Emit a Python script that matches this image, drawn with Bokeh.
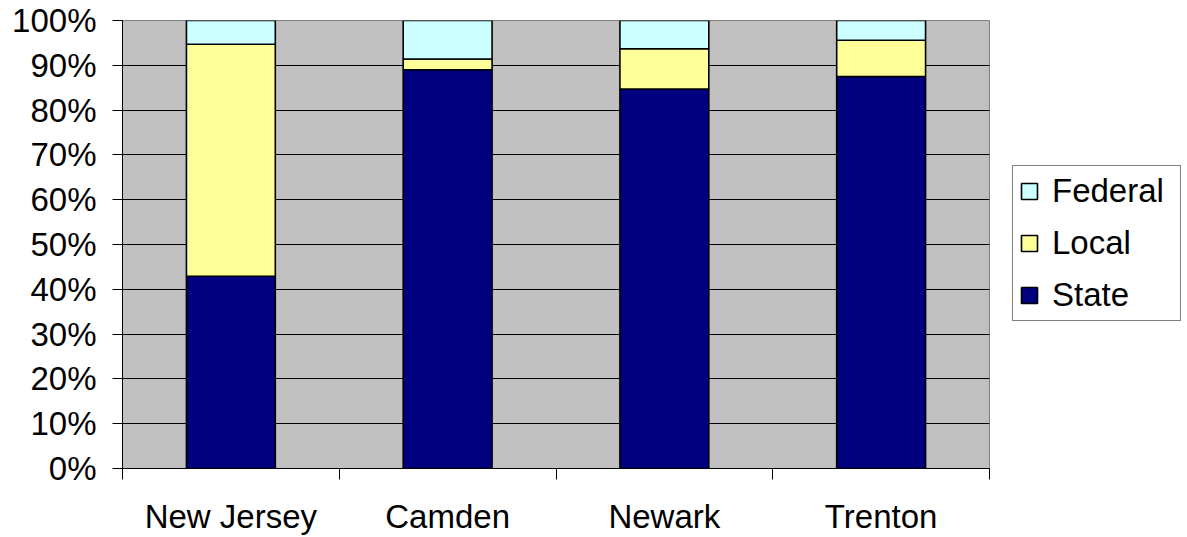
from bokeh.plotting import figure
from bokeh.models import (Range1d, FixedTicker, NumeralTickFormatter, Legend, LegendItem,
                          ColumnDataSource)
from bokeh.embed import file_html
from bokeh.resources import INLINE

categories = ["New Jersey", "Camden", "Newark", "Trenton"]
state = [0.429, 0.890, 0.847, 0.875]
local = [0.518, 0.024, 0.090, 0.081]
federal = [0.053, 0.086, 0.063, 0.044]
series = ["State", "Local", "Federal"]
colors = ["#000080", "#FFFF99", "#CCFFFF"]
y_ticks = [i / 10 for i in range(11)]

pos = [i + 0.5 for i in range(len(categories))]
src = ColumnDataSource(dict(x=pos, State=state, Local=local, Federal=federal))

FONT = "Liberation Sans"
FS = "33px"

p = figure(frame_width=867, frame_height=448, output_backend="svg", toolbar_location=None,
           x_range=Range1d(0, len(categories)), y_range=Range1d(0, 1),
           min_border_left=122, min_border_right=0, min_border_top=20, min_border_bottom=69)
p.background_fill_color = "#C0C0C0"
p.border_fill_color = "white"
p.outline_line_color = "#808080"
p.outline_line_width = 1

renderers = p.vbar_stack(series, x="x", width=0.41, source=src, color=colors,
                         line_color="black", line_width=1.6)

# axes
p.xaxis.ticker = FixedTicker(ticks=pos, minor_ticks=list(range(len(categories) + 1)))
p.xaxis.major_label_overrides = {x: c for x, c in zip(pos, categories)}
p.xaxis.major_tick_out = 0
p.xaxis.major_tick_in = 0
p.xaxis.minor_tick_out = 11
p.xaxis.minor_tick_in = 0
p.xaxis.minor_tick_line_color = "black"
p.xaxis.axis_line_color = "black"
p.xaxis.major_label_standoff = 18
p.xaxis.major_label_text_font = FONT
p.xaxis.major_label_text_font_size = FS
p.xaxis.major_label_text_color = "black"

p.yaxis.ticker = FixedTicker(ticks=y_ticks, minor_ticks=[])
p.yaxis.formatter = NumeralTickFormatter(format="0%")
p.yaxis.major_tick_out = 10
p.yaxis.major_tick_in = 0
p.yaxis.major_tick_line_color = "black"
p.yaxis.axis_line_color = "black"
p.yaxis.major_label_standoff = 16
p.yaxis.major_label_text_font = FONT
p.yaxis.major_label_text_font_size = FS
p.yaxis.major_label_text_color = "black"

p.xgrid.grid_line_color = None
p.ygrid.ticker = FixedTicker(ticks=y_ticks)
p.ygrid.grid_line_color = "black"
p.ygrid.grid_line_width = 1

items = [LegendItem(label=series[i], renderers=[renderers[i]]) for i in (2, 1, 0)]
legend = Legend(items=items, location=(23, 147), orientation="vertical",
                label_text_font=FONT, label_text_font_size=FS, label_text_color="black",
                glyph_width=20, glyph_height=20, label_standoff=13, label_width=122,
                spacing=14, padding=6, margin=0,
                border_line_color="black", border_line_width=1,
                background_fill_color="white", background_fill_alpha=1.0)
p.add_layout(legend, "right")

open("out.html", "w").write(file_html(p, INLINE))
